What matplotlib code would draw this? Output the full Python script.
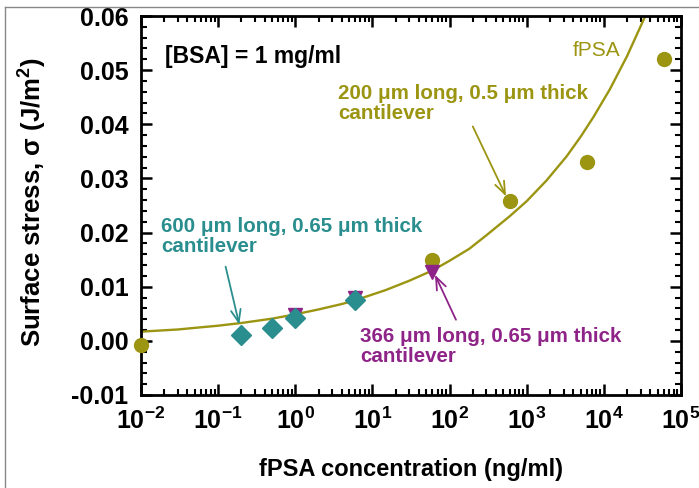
import matplotlib
matplotlib.use('Agg')
import matplotlib.pyplot as plt
from matplotlib.lines import Line2D
from matplotlib.ticker import AutoMinorLocator, FixedLocator

plt.rcParams['font.family'] = ['Liberation Sans', 'DejaVu Sans']
plt.rcParams['mathtext.fontset'] = 'custom'
plt.rcParams['mathtext.rm'] = 'Liberation Sans'
plt.rcParams['mathtext.bf'] = 'Liberation Sans:bold'

# fPSA, 200 um cantilever (circles)
conc_200 = [0.01, 60, 600, 6000, 60000]
stress_200 = [-0.0007, 0.015, 0.0259, 0.0331, 0.052]

# 366 um cantilever (triangles)
conc_366 = [1, 6, 60]
stress_366 = [0.0048, 0.0079, 0.0128]

# 600 um cantilever (diamonds)
conc_600 = [0.2, 0.5, 1, 6]
stress_600 = [0.0011, 0.0023, 0.0043, 0.0076]

# fit curve
fit_conc = [0.01, 0.03, 0.05, 0.1, 0.2, 0.5, 1, 2, 4, 6, 15, 30, 60, 100, 180, 300, 600,
            1000, 1800, 3300, 5000, 7300, 12000, 20000, 36000]
fit_stress = [0.0017, 0.0021, 0.0024, 0.0028, 0.0033, 0.0041, 0.0049, 0.0058, 0.0068, 0.0075,
              0.0094, 0.0111, 0.0130, 0.0148, 0.0170, 0.0195, 0.0230,
              0.0258, 0.0296, 0.0341, 0.0377, 0.0413, 0.0465, 0.0526, 0.0606]

y_ticks = [-0.01, 0.0, 0.01, 0.02, 0.03, 0.04, 0.05, 0.06]
x_ticks = [1e-2, 1e-1, 1e0, 1e1, 1e2, 1e3, 1e4, 1e5]
x_tick_labels = [r'$\mathbf{10^{-2}}$', r'$\mathbf{10^{-1}}$', r'$\mathbf{10^{0}}$', r'$\mathbf{10^{1}}$',
                 r'$\mathbf{10^{2}}$', r'$\mathbf{10^{3}}$', r'$\mathbf{10^{4}}$', r'$\mathbf{10^{5}}$']

olive = '#9B9512'
teal = '#2B8E8E'
purple = '#8E2388'

fig = plt.figure(figsize=(6.99, 4.88), dpi=100)
ax = fig.add_axes([141/699, 1-395/488, 540/699, 379/488])

ax.plot(fit_conc, fit_stress, color=olive, lw=1.7, zorder=2)
ax.plot(conc_200, stress_200, 'o', color=olive, ms=10, zorder=3, clip_on=False)
ax.plot(conc_366, stress_366, 'v', color=purple, ms=10, zorder=4)
ax.plot(conc_600, stress_600, 'D', color=teal, ms=10.5, zorder=5)

ax.set_xscale('log')
ax.set_xlim(1e-2, 1e5)
ax.set_ylim(-0.01, 0.06)
ax.xaxis.set_major_locator(FixedLocator(x_ticks))
ax.set_xticklabels(x_tick_labels)
ax.set_yticks(y_ticks)
ax.set_yticklabels(['%.2f' % v for v in y_ticks])
ax.yaxis.set_minor_locator(AutoMinorLocator(5))

for s in ax.spines.values():
    s.set_linewidth(2)
ax.tick_params(which='both', direction='in', top=True, right=True, labelsize=18)
ax.tick_params(which='major', length=8, width=1.8, pad=9)
ax.tick_params(which='minor', length=4.5, width=1.5)
for lab in ax.get_yticklabels():
    lab.set_fontweight('bold')

ax.set_xlabel('fPSA concentration (ng/ml)', fontsize=17, fontweight='bold')
ax.set_ylabel(r'Surface stress, σ (J/m$^{\mathbf{2}}$)', fontsize=18.5, fontweight='bold')
ax.xaxis.set_label_coords(0.5, -0.165)
ax.yaxis.set_label_coords(-0.172, 0.51)

ax.text(0.0205, 0.0525, '[BSA] = 1 mg/ml', fontsize=16.5, fontweight='bold', va='center', ha='left')
ax.text(3980, 0.0537, 'fPSA', fontsize=15, color=olive, va='center', ha='left')

arrow_style = '->,head_length=0.9,head_width=0.35'

ax.text(3.58, 0.0439, '200 μm long, 0.5 μm thick\ncantilever', fontsize=14.8, fontweight='bold',
        color=olive, va='center', ha='left', linespacing=1.05)
ax.annotate('', xy=(540, 0.0267), xytext=(200, 0.0396),
            arrowprops=dict(arrowstyle=arrow_style, color=olive, lw=1.3, shrinkA=0, shrinkB=0))

ax.text(0.01815, 0.0193, '600 μm long, 0.65 μm thick\ncantilever', fontsize=14.8, fontweight='bold',
        color=teal, va='center', ha='left', linespacing=1.05)
ax.annotate('', xy=(0.188, 0.003), xytext=(0.125, 0.0137),
            arrowprops=dict(arrowstyle=arrow_style, color=teal, lw=1.3, shrinkA=0, shrinkB=0))

ax.text(6.9, -0.001, '366 μm long, 0.65 μm thick\ncantilever', fontsize=14.8, fontweight='bold',
        color=purple, va='center', ha='left', linespacing=1.05)
ax.annotate('', xy=(64.7, 0.0122), xytext=(121, 0.0039),
            arrowprops=dict(arrowstyle=arrow_style, color=purple, lw=1.3, shrinkA=0, shrinkB=0))

# thin grey frame at top and left of the picture
fig.add_artist(Line2D([5/699, 1], [1-7/488, 1-7/488], transform=fig.transFigure, color='#888888', lw=1))
fig.add_artist(Line2D([5/699, 5/699], [0, 1-7/488], transform=fig.transFigure, color='#888888', lw=1))

fig.savefig('out.png', dpi=100)
